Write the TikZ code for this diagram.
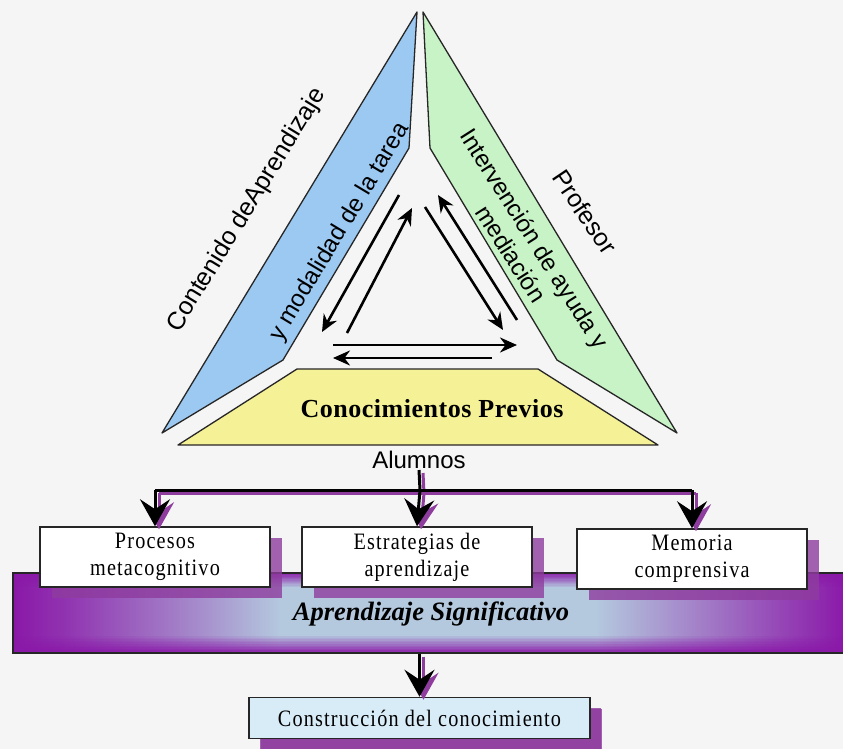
\documentclass[tikz,border=0pt]{standalone}
\usepackage{fontspec}
\setmainfont{Liberation Serif}
\newfontfamily\sansf{Liberation Sans}
\newfontfamily\boxf[FakeStretch=0.86, LetterSpace=5]{Liberation Serif}
\newfontfamily\cpf[LetterSpace=2]{Liberation Serif}
\usetikzlibrary{arrows.meta,shadows}
\definecolor{bg}{HTML}{F5F5F5}
\definecolor{bluef}{HTML}{9CC9F2}
\definecolor{greenf}{HTML}{C8F3C6}
\definecolor{yellowf}{HTML}{F5F196}
\definecolor{purp}{HTML}{8A18A8}
\definecolor{bandc}{HTML}{B4C8DE}
\definecolor{shadowp}{HTML}{8E3C9E}
\definecolor{consf}{HTML}{D8ECF8}
\pgfdeclarehorizontalshading{bandh}{100bp}{color(0bp)=(purp); color(25bp)=(purp); color(28bp)=(purp!85!bandc); color(36bp)=(purp!35!bandc); color(41bp)=(bandc); color(60bp)=(bandc); color(66bp)=(purp!40!bandc); color(72bp)=(purp!80!bandc); color(75bp)=(purp); color(100bp)=(purp)}
\tikzset{
  poly/.style={draw=black!85, line width=1.3pt, line join=round},
  rotlbl/.style={font=\sansf\fontsize{24}{29}\selectfont, inner sep=0pt},
  cen/.style={line width=2.6pt, -{Stealth[length=17pt,width=15pt]}},
  conn/.style={line width=3pt},
  headarr/.style={-{Stealth[length=27pt,width=30pt,inset=10pt]}},
  shad/.style={draw=shadowp, transform canvas={xshift=4pt,yshift=-3pt}},
  boxst/.style={draw=black!85, line width=1.5pt, fill=white, minimum width=230pt, minimum height=60pt, align=center, inner sep=0pt, font=\boxf\fontsize{23.5}{27}\selectfont,
    general shadow={fill=shadowp, opacity=.8, shadow xshift=12pt, shadow yshift=-11pt}},
}
\begin{document}
\begin{tikzpicture}[x=1pt,y=-1pt]
\useasboundingbox (0,0) rectangle (843,749);
\fill[bg] (0,0) rectangle (843,749);

% triangle panels
\filldraw[poly, fill=bluef] (417,12) -- (409,148) -- (283,360) -- (162,433) -- cycle;
\filldraw[poly, fill=greenf] (423,12) -- (430,148) -- (557,360) -- (677,433) -- cycle;
\filldraw[poly, fill=yellowf] (297,369) -- (538,369) -- (658,445) -- (178,445) -- cycle;

% labels
\node[rotlbl, rotate=58.5, font=\sansf\fontsize{25}{29}\selectfont] (cda) at (247,210) {Contenido deAprendizaje};
\node[rotlbl, rotate=59] (ymt) at (340,232) {y modalidad de la tarea};
\node[rotlbl, rotate=-56, font=\sansf\fontsize{25}{29}\selectfont] (prof) at (585,212) {Profesor};
\node[rotlbl, rotate=-57.5, align=center, font=\sansf\fontsize{24}{28}\selectfont] (iam) at (523,246) {Intervención de ayuda y\\mediación};
\node[font=\cpf\bfseries\fontsize{26}{30}\selectfont, inner sep=0pt] (cp) at (432,409) {Conocimientos Previos};

% central arrows
\coordinate (l1s) at (399,195); \coordinate (l1e) at (322,332);
\coordinate (l2s) at (347,333); \coordinate (l2e) at (412,208);
\coordinate (r1s) at (425,207); \coordinate (r1e) at (503,330);
\coordinate (r2s) at (517,320); \coordinate (r2e) at (438,195);
\coordinate (b1s) at (333,345); \coordinate (b1e) at (517,345);
\coordinate (b2s) at (492,358); \coordinate (b2e) at (333,358);
\draw[cen] (l1s) -- (l1e);
\draw[cen] (l2s) -- (l2e);
\draw[cen] (r1s) -- (r1e);
\draw[cen] (r2s) -- (r2e);
\draw[cen] (b1s) -- (b1e);
\draw[cen] (b2s) -- (b2e);

% Alumnos
\node[font=\sansf\fontsize{24}{28}\selectfont, inner sep=1pt] (alum) at (419,460) {Alumnos};

% band
\node[shade, shading=bandh, draw=black!85, line width=1.2pt, minimum width=833pt, minimum height=80pt, inner sep=0pt] (band) at (429.5,613) {};
\foreach \i in {0,...,9}{
  \fill[purp, opacity={0.85-0.085*\i}] (14,574+1.3*\i) rectangle (846,575.3+1.3*\i);
  \fill[purp, opacity={0.85-0.085*\i}] (14,652-1.6*\i) rectangle (846,650.4-1.6*\i);
}
\node[font=\bfseries\itshape\fontsize{26.5}{30}\selectfont, inner sep=0pt] (asig) at (431,614) {Aprendizaje Significativo};

% boxes
\node[boxst] (p1) at (155,557) {Procesos\\metacognitivo};
\node[boxst] (p2) at (417,557) {Estrategias de\\aprendizaje};
\node[boxst] (p3) at (692,559) {Memoria\\comprensiva};
\node[boxst, fill=consf, minimum width=341pt, minimum height=41pt, general shadow={fill=shadowp, opacity=.8, shadow xshift=11pt, shadow yshift=-10pt}] (cons) at (419.5,718) {Construcción del conocimiento};

% connectors
\coordinate (bar) at (420,490);
\draw[conn, shad] (bar -| p1.north) -- (bar -| p3.north);
\draw[conn, shad] (alum.south) -- (bar);
\draw[conn, shad, headarr] (bar -| p1.north) -- (p1.north);
\draw[conn, shad, headarr] (bar) -- (p2.north);
\draw[conn, shad, headarr] (bar -| p3.north) -- (p3.north);
\draw[conn, shad, headarr] (band.south -| cons.north) -- (cons.north);

\draw[conn] (bar -| p1.north) -- (bar -| p3.north);
\draw[conn] (alum.south) -- (bar);
\draw[conn, headarr] (bar -| p1.north) -- (p1.north);
\draw[conn, headarr] (bar) -- (p2.north);
\draw[conn, headarr] (bar -| p3.north) -- (p3.north);
\draw[conn, headarr] (band.south -| cons.north) -- (cons.north);
\end{tikzpicture}
\end{document}
